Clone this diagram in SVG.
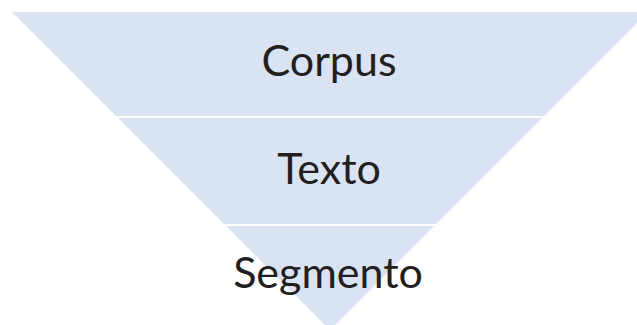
<svg xmlns="http://www.w3.org/2000/svg" width="637" height="325" viewBox="0 0 637 325">
  <style>
    .band { fill: #DAE3F3; stroke: none; }
    .label { font-family: Lato, "Open Sans", "Liberation Sans", sans-serif; font-size: 43px; fill: #231F20; text-anchor: middle; }
  </style>
  <rect width="637" height="325" fill="#FFFFFF"/>
  <!-- inverted pyramid, three stacked levels -->
  <g id="level-corpus">
    <polygon class="band" points="12,12 648,12 544,116 116,116"/>
    <text class="label" x="329" y="76">Corpus</text>
  </g>
  <g id="level-texto">
    <polygon class="band" points="118,118 542,118 436,224 224,224"/>
    <text class="label" x="329" y="184">Texto</text>
  </g>
  <g id="level-segmento">
    <polygon class="band" points="226,226 434,226 330,330"/>
    <text class="label" x="328" y="288">Segmento</text>
  </g>
  <g id="connectors"></g>
</svg>
